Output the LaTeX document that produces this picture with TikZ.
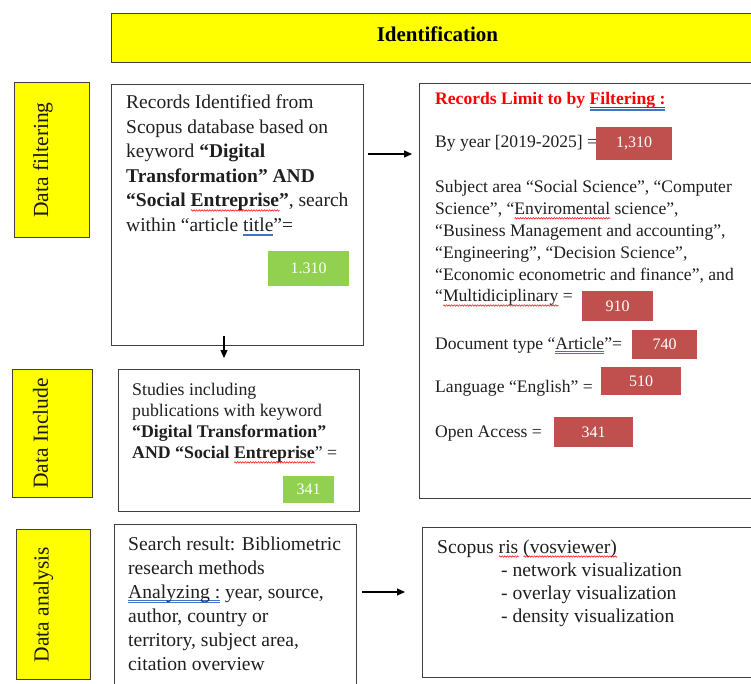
\documentclass[tikz,border=0pt]{standalone}
\usepackage{fontspec}
\setmainfont{Liberation Serif}
\usetikzlibrary{arrows.meta,calc,decorations.pathmorphing}
\definecolor{ylw}{HTML}{FFFF00}
\definecolor{grn}{HTML}{92D050}
\definecolor{rd}{HTML}{C0504D}
\definecolor{gblue}{HTML}{4472C4}
\definecolor{bord}{HTML}{404040}
\newcommand\lns[1]{\begin{tabular}[t]{@{}l@{}}#1\end{tabular}}
\newcommand\rwave[1]{\setbox0\hbox{#1}\rlap{\tikz[baseline=0pt,x=1pt,y=1pt]{\draw[red,line width=0.5pt,decorate,decoration={zigzag,segment length=2.6pt,amplitude=0.8pt}] (0pt,-3.5pt) -- (\the\wd0,-3.5pt);}}\box0\relax}
\newcommand\bdl[1]{\setbox0\hbox{#1}\rlap{\color{gblue}\rule[-3pt]{\wd0}{0.6pt}}\rlap{\color{gblue}\rule[-4.6pt]{\wd0}{0.6pt}}\box0\relax}
\newcommand\filul[1]{\setbox0\hbox{#1}\rlap{\color{red}\rule[-2.6pt]{\wd0}{1pt}}\rlap{\color{gblue}\rule[-4.4pt]{\wd0}{0.6pt}}\rlap{\color{gblue}\rule[-6pt]{\wd0}{0.6pt}}\box0\relax}
\newcommand\fA{\fontsize{19.5}{24.5}\selectfont}
\newcommand\fB{\fontsize{17.8}{21.3}\selectfont}
\newcommand\fC{\fontsize{19.6}{24}\selectfont}
\newcommand\fD{\fontsize{19.6}{23.3}\selectfont}
\newcommand\fE{\fontsize{17.6}{21.8}\selectfont}
\begin{document}
\begin{tikzpicture}[x=1pt,y=-1pt,
  panel/.style={draw=bord, line width=1.3pt, fill=white, inner sep=0, anchor=north west},
  side/.style={draw=bord, line width=0.9pt, fill=ylw, inner sep=0, anchor=north west},
  sidelbl/.style={rotate=90, inner sep=0, text=black!90, font=\fontsize{21.5}{24}\selectfont},
  num/.style={inner sep=0, anchor=north west, text=white, font=\fontsize{16}{18}\selectfont},
  txt/.style={inner sep=0, anchor=base west, text=black!88},
  arr/.style={line width=1.1pt, -{Triangle[length=8pt,width=7pt]}}]
\useasboundingbox (0,0) rectangle (751,684);

% header
\node[side, minimum width=652pt, minimum height=49pt] (ident) at (111,13) {};
\node[inner sep=0, font=\bfseries\fontsize{21}{24}\selectfont] (identl) at ($(ident.center)+(0,-4)$) {Identification};

% row 1
\node[side, minimum width=75pt, minimum height=155pt] (df) at (14,82) {};
\node[sidelbl] (dfl) at ($(df.center)+(-9,0)$) {Data filtering};

\node[panel, minimum width=252pt, minimum height=261pt] (b1) at (111,84) {};
\node[txt, font=\fA] (b1t) at (126,109) {\lns{Records Identified from\\
Scopus database based on\\
keyword \textbf{“Digital}\\
\textbf{Transformation” AND}\\
\textbf{“Social \rwave{Entreprise}”}, search\\
within “article \bdl{title}”=}};
\node[num, fill=grn, minimum width=81pt, minimum height=35pt] (g1) at (268,251) {1.310};

\node[panel, minimum width=346pt, minimum height=415pt] (bR) at (419,83) {};
\node[txt, font=\fE\bfseries, text=red] (rt) at (435,105) {Records Limit to by \filul{Filtering :}};
\node[txt, font=\fE] (ry) at (435,148) {By year [2019-2025] =};
\node[num, fill=rd, minimum width=76pt, minimum height=33pt] (r1) at (596,127) {1,310};
\node[txt, font=\fE] (rs) at (435,193) {\lns{Subject area “Social Science”, “Computer\\
Science”, “\rwave{Enviromental} science”,\\
“Business Management and accounting”,\\
“Engineering”, “Decision Science”,\\
“Economic econometric and finance”, and\\
“\rwave{Multidiciplinary} =}};
\node[num, fill=rd, minimum width=71pt, minimum height=30pt] (r2) at (582,291) {910};
\node[txt, font=\fE] (rdoc) at (435,349) {Document type “\bdl{Article}”=};
\node[num, fill=rd, minimum width=65pt, minimum height=29pt] (r3) at (632,330) {740};
\node[txt, font=\fE] (rl) at (435,392) {Language “English” =};
\node[num, fill=rd, minimum width=80pt, minimum height=28pt] (r4) at (601,367) {510};
\node[txt, font=\fE] (ro) at (435,437) {Open Access =};
\node[num, fill=rd, minimum width=79pt, minimum height=30pt] (r5) at (554,417) {341};

% row 2
\node[side, minimum width=80pt, minimum height=128pt] (di) at (12,369) {};
\node[sidelbl] (dil) at ($(di.center)+(-12,0)$) {Data Include};
\node[panel, minimum width=241pt, minimum height=142pt] (b2) at (118,369) {};
\node[txt, font=\fB] (b2t) at (132,395) {\lns{Studies including\\
publications with keyword\\
\textbf{“Digital Transformation”}\\
\textbf{AND “Social \rwave{Entreprise}}” =}};
\node[num, fill=grn, minimum width=51pt, minimum height=27pt] (g2) at (283,476) {341};

% row 3
\node[side, minimum width=74pt, minimum height=150pt] (da) at (16,529) {};
\node[sidelbl] (dal) at ($(da.center)+(-10,0)$) {Data analysis};
\node[panel, minimum width=242pt, minimum height=180pt] (b3) at (114,524) {};
\node[txt, font=\fC] (b3t) at (128,550) {\lns{Search result: Bibliometric\\
research methods\\
\bdl{Analyzing :} year, source,\\
author, country or\\
territory, subject area,\\
citation overview}};
\node[panel, minimum width=343pt, minimum height=150pt] (b4) at (422,527) {};
\node[txt, font=\fD] (b4t) at (437,553) {\lns{Scopus \rwave{ris} \rwave{(vosviewer)}\\
\hspace*{64pt}- network visualization\\
\hspace*{64pt}- overlay visualization\\
\hspace*{64pt}- density visualization}};

% connectors
\coordinate (a1) at (0,154);
\coordinate (a2) at (224,0);
\coordinate (a3) at (0,592);
\draw[arr] ($(b1.east |- a1)+(4,0)$) -- ($(bR.west |- a1)+(-7,0)$);
\draw[arr] ($(b1.south -| a2)+(0,-10)$) -- ($(b2.north -| a2)+(0,-11)$);
\draw[arr] ($(b3.east |- a3)+(5,0)$) -- ($(b4.west |- a3)+(-17,0)$);
\end{tikzpicture}
\end{document}
